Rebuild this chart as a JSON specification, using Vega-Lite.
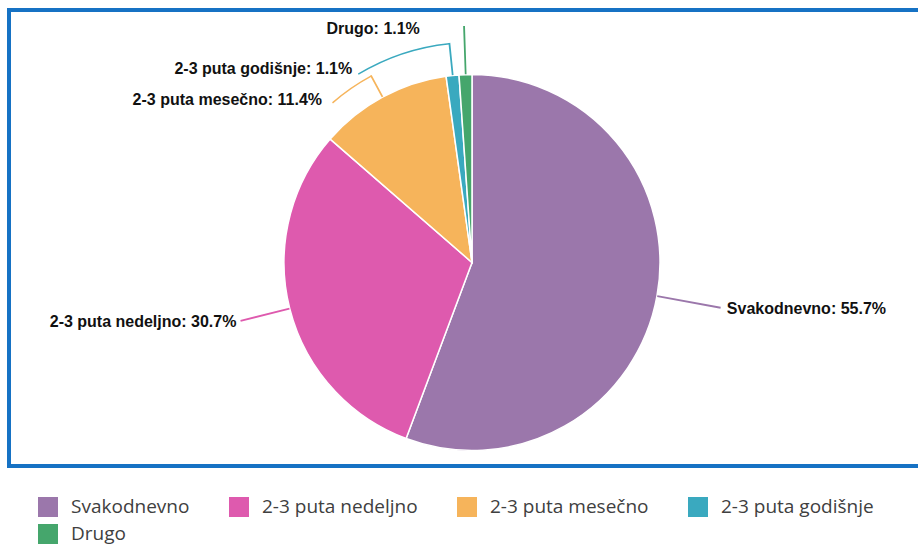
{
  "$schema": "https://vega.github.io/schema/vega-lite/v6.json",
  "width": 916,
  "height": 456,
  "autosize": {"type": "none"},
  "padding": {"left": 9, "top": 10, "right": -7, "bottom": 79},
  "background": "white",
  "config": {
    "view": {"stroke": null},
    "font": "Liberation Sans"
  },
  "data": {
    "values": [
      {"category": "Svakodnevno", "value": 55.7},
      {"category": "2-3 puta nedeljno", "value": 30.7},
      {"category": "2-3 puta mesečno", "value": 11.4},
      {"category": "2-3 puta godišnje", "value": 1.1},
      {"category": "Drugo", "value": 1.1}
    ]
  },
  "transform": [
    {"window": [{"op": "row_number", "as": "idx"}]},
    {"stack": "value", "groupby": [], "sort": [{"field": "idx", "order": "ascending"}], "as": ["start", "end"]},
    {"calculate": "(datum.start + datum.end) / 2", "as": "mid"},
    {"calculate": "datum.mid + 0.03", "as": "mid2"},
    {"calculate": "datum.category + ': ' + format(datum.value, '.1f') + '%'", "as": "label"}
  ],
  "layer": [
    {
      "transform": [{"filter": "datum.idx === 1"}],
      "mark": {"type": "rect", "x": 0, "x2": {"expr": "width"}, "y": 0, "y2": {"expr": "height"}, "fill": "transparent", "stroke": "#1672c4", "strokeWidth": 4},
      "encoding": {}
    },
    {
      "mark": {"type": "arc", "outerRadius": 188, "stroke": "white", "strokeWidth": 1.5, "x": {"expr": "width/2 + 5"}, "y": {"expr": "height/2 + 24.5"}},
      "encoding": {
        "theta": {"field": "start", "type": "quantitative", "scale": {"domain": [0, 100]}, "stack": null},
        "theta2": {"field": "end"},
        "color": {
          "field": "category", "type": "nominal",
          "scale": {"domain": ["Svakodnevno", "2-3 puta nedeljno", "2-3 puta mesečno", "2-3 puta godišnje", "Drugo"], "range": ["#9b77ab", "#de5aae", "#f6b45b", "#3aa9bf", "#45a66c"]},
          "legend": {"orient": "none", "legendX": 29, "legendY": 487, "direction": "horizontal", "columns": 4, "title": null, "symbolType": "square", "symbolSize": 400, "symbolStrokeWidth": 0, "labelFont": "Open Sans", "labelFontSize": 19, "labelColor": "#404040", "labelOffset": 13, "columnPadding": 39, "rowPadding": 7, "labelLimit": 400, "padding": 0}
        }
      }
    },
    {
      "transform": [{"filter": "datum.category === 'Svakodnevno'"}],
      "mark": {"type": "arc", "filled": false, "radius": 252, "radius2": 189, "strokeWidth": 1.4, "x": {"expr": "width/2 + 5"}, "y": {"expr": "height/2 + 24.5"}},
      "encoding": {
        "theta": {"field": "mid", "type": "quantitative", "scale": {"domain": [0, 100]}, "stack": null},
        "theta2": {"field": "mid2"},
        "stroke": {"field": "category", "type": "nominal", "scale": {"domain": ["Svakodnevno", "2-3 puta nedeljno", "2-3 puta mesečno", "2-3 puta godišnje", "Drugo"], "range": ["#9b77ab", "#de5aae", "#f6b45b", "#3aa9bf", "#45a66c"]}, "legend": null}
      }
    },
    {
      "transform": [{"filter": "datum.category === '2-3 puta nedeljno'"}],
      "mark": {"type": "arc", "filled": false, "radius": 238, "radius2": 189, "strokeWidth": 1.4, "x": {"expr": "width/2 + 5"}, "y": {"expr": "height/2 + 24.5"}},
      "encoding": {
        "theta": {"field": "mid", "type": "quantitative", "scale": {"domain": [0, 100]}, "stack": null},
        "theta2": {"field": "mid2"},
        "stroke": {"field": "category", "type": "nominal", "legend": null}
      }
    },
    {
      "transform": [{"filter": "datum.category === '2-3 puta mesečno'"}],
      "mark": {"type": "arc", "filled": false, "radius": 212, "radius2": 189, "strokeWidth": 1.4, "x": {"expr": "width/2 + 5"}, "y": {"expr": "height/2 + 24.5"}},
      "encoding": {
        "theta": {"field": "mid", "type": "quantitative", "scale": {"domain": [0, 100]}, "stack": null},
        "theta2": {"field": "mid2"},
        "stroke": {"field": "category", "type": "nominal", "legend": null}
      }
    },
    {
      "transform": [{"filter": "datum.category === '2-3 puta mesečno'"}],
      "mark": {"type": "arc", "filled": false, "radius": 212, "radius2": 212, "strokeWidth": 1.4, "x": {"expr": "width/2 + 5"}, "y": {"expr": "height/2 + 24.5"}},
      "encoding": {
        "theta": {"field": "mid", "type": "quantitative", "scale": {"domain": [0, 100]}, "stack": null},
        "theta2": {"value": 5.565},
        "stroke": {"field": "category", "type": "nominal", "legend": null}
      }
    },
    {
      "transform": [{"filter": "datum.category === '2-3 puta godišnje'"}],
      "mark": {"type": "arc", "filled": false, "radius": 220, "radius2": 189, "strokeWidth": 1.4, "x": {"expr": "width/2 + 5"}, "y": {"expr": "height/2 + 24.5"}},
      "encoding": {
        "theta": {"field": "mid", "type": "quantitative", "scale": {"domain": [0, 100]}, "stack": null},
        "theta2": {"field": "mid2"},
        "stroke": {"field": "category", "type": "nominal", "legend": null}
      }
    },
    {
      "transform": [{"filter": "datum.category === '2-3 puta godišnje'"}],
      "mark": {"type": "arc", "filled": false, "radius": 220, "radius2": 220, "strokeWidth": 1.4, "x": {"expr": "width/2 + 5"}, "y": {"expr": "height/2 + 24.5"}},
      "encoding": {
        "theta": {"field": "mid", "type": "quantitative", "scale": {"domain": [0, 100]}, "stack": null},
        "theta2": {"value": 5.74},
        "stroke": {"field": "category", "type": "nominal", "legend": null}
      }
    },
    {
      "transform": [{"filter": "datum.category === 'Drugo'"}],
      "mark": {"type": "arc", "filled": false, "radius": 236, "radius2": 189, "strokeWidth": 1.4, "x": {"expr": "width/2 + 5"}, "y": {"expr": "height/2 + 24.5"}},
      "encoding": {
        "theta": {"field": "mid", "type": "quantitative", "scale": {"domain": [0, 100]}, "stack": null},
        "theta2": {"field": "mid2"},
        "stroke": {"field": "category", "type": "nominal", "legend": null}
      }
    },
    {
      "transform": [{"filter": "datum.category === 'Svakodnevno'"}],
      "mark": {"type": "text", "radius": 259, "align": "left", "baseline": "middle", "fontSize": 16, "fontWeight": "bold", "fill": "#111111", "x": {"expr": "width/2 + 5"}, "y": {"expr": "height/2 + 24.5"}},
      "encoding": {
        "theta": {"field": "mid", "type": "quantitative", "scale": {"domain": [0, 100]}, "stack": null},
        "text": {"field": "label"}
      }
    },
    {
      "transform": [{"filter": "datum.category === '2-3 puta nedeljno'"}],
      "mark": {"type": "text", "radius": 243, "align": "right", "baseline": "middle", "fontSize": 16, "fontWeight": "bold", "fill": "#111111", "x": {"expr": "width/2 + 5"}, "y": {"expr": "height/2 + 24.5"}},
      "encoding": {
        "theta": {"field": "mid", "type": "quantitative", "scale": {"domain": [0, 100]}, "stack": null},
        "text": {"field": "label"}
      }
    },
    {
      "transform": [{"filter": "datum.category === '2-3 puta mesečno'"}],
      "mark": {"type": "text", "radius": 212, "dx": -49, "dy": 23.5, "align": "right", "baseline": "middle", "fontSize": 16, "fontWeight": "bold", "fill": "#111111", "x": {"expr": "width/2 + 5"}, "y": {"expr": "height/2 + 24.5"}},
      "encoding": {
        "theta": {"field": "mid", "type": "quantitative", "scale": {"domain": [0, 100]}, "stack": null},
        "text": {"field": "label"}
      }
    },
    {
      "transform": [{"filter": "datum.category === '2-3 puta godišnje'"}],
      "mark": {"type": "text", "radius": 220, "dx": -97, "dy": 25, "align": "right", "baseline": "middle", "fontSize": 16, "fontWeight": "bold", "fill": "#111111", "x": {"expr": "width/2 + 5"}, "y": {"expr": "height/2 + 24.5"}},
      "encoding": {
        "theta": {"field": "mid", "type": "quantitative", "scale": {"domain": [0, 100]}, "stack": null},
        "text": {"field": "label"}
      }
    },
    {
      "transform": [{"filter": "datum.category === 'Drugo'"}],
      "mark": {"type": "text", "radius": 236, "dx": -44, "dy": 2, "align": "right", "baseline": "middle", "fontSize": 16, "fontWeight": "bold", "fill": "#111111", "x": {"expr": "width/2 + 5"}, "y": {"expr": "height/2 + 24.5"}},
      "encoding": {
        "theta": {"field": "mid", "type": "quantitative", "scale": {"domain": [0, 100]}, "stack": null},
        "text": {"field": "label"}
      }
    }
  ]
}
